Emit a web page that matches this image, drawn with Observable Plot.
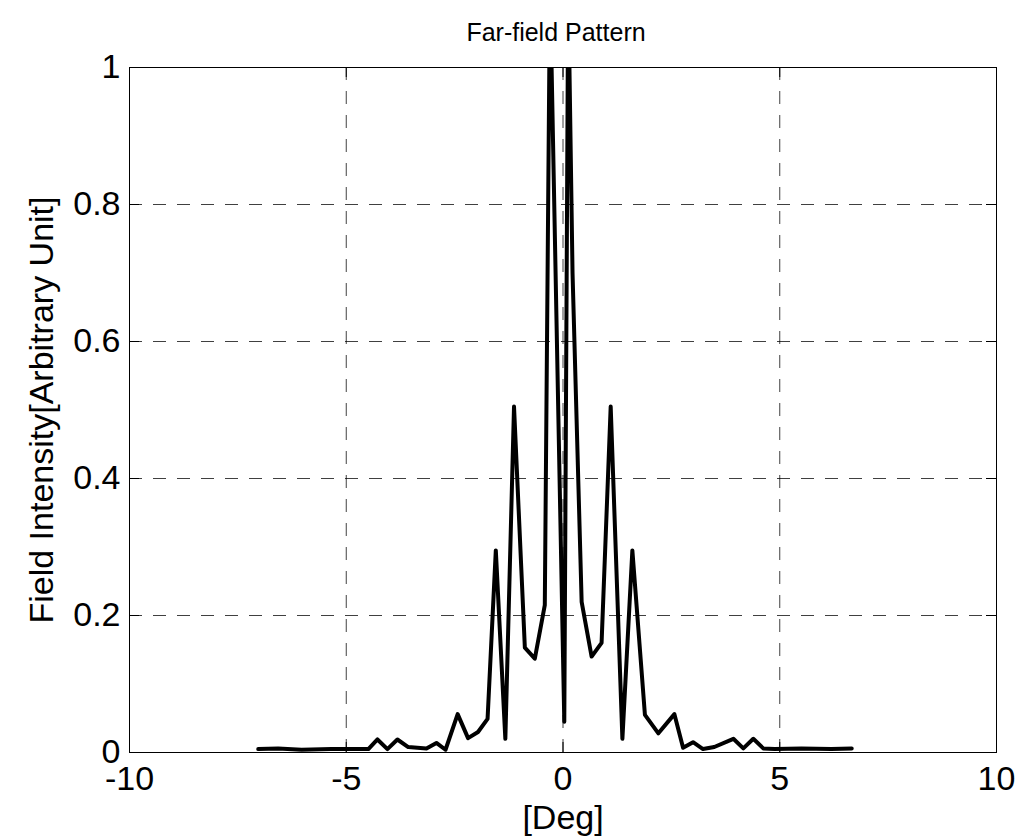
<!DOCTYPE html>
<html>
<head>
<meta charset="utf-8">
<script src="https://cdn.jsdelivr.net/npm/d3@7"></script>
<script src="https://cdn.jsdelivr.net/npm/@observablehq/plot@0.6"></script>
<style>
  html, body { margin: 0; padding: 0; background: #fff; }
  #chart svg { display: block; }
</style>
</head>
<body>
<div id="chart"></div>
<script>
// ---- data ----
const deg = [-7.03, -6.57, -6.03, -5.34, -4.49, -4.28, -4.05, -3.82, -3.57, -3.15, -2.92, -2.71, -2.43, -2.19, -1.96, -1.74, -1.55, -1.33, -1.13, -0.88, -0.65, -0.42, -0.30, 0.03, 0.12, 0.22, 0.43, 0.66, 0.89, 1.10, 1.37, 1.60, 1.89, 2.20, 2.57, 2.77, 3.00, 3.23, 3.49, 3.93, 4.16, 4.39, 4.62, 4.88, 5.50, 6.19, 6.66];
const intensity = [0.005, 0.006, 0.004, 0.005, 0.005, 0.019, 0.005, 0.019, 0.008, 0.006, 0.014, 0.004, 0.056, 0.021, 0.030, 0.049, 0.295, 0.020, 0.505, 0.153, 0.137, 0.215, 1.12, 0.045, 1.12, 0.70, 0.22, 0.14, 0.16, 0.505, 0.020, 0.295, 0.055, 0.028, 0.056, 0.007, 0.015, 0.005, 0.008, 0.020, 0.006, 0.020, 0.006, 0.005, 0.006, 0.005, 0.006];
const xTicks = [-10, -5, 0, 5, 10];
const yTicks = [0, 0.2, 0.4, 0.6, 0.8, 1];
const titleText = "Far-field Pattern";
const xLabel = "[Deg]";
const yLabel = "Field Intensity[Arbitrary Unit]";

const data = deg.map((d, i) => ({deg: d, v: intensity[i]}));

const W = 1036, H = 837, mL = 129, mR = 40, mT = 67, mB = 85;
const tickPx = 10;
const tickLenX = tickPx / ((W - mL - mR) / 20);
const tickLenY = tickPx / (H - mT - mB);
const font = "'Liberation Sans', Arial, Helvetica, sans-serif";
const gridStyle = {stroke: "#000", strokeOpacity: 0.75, strokeWidth: 1, strokeDasharray: "13,11"};

const chart = Plot.plot({
  width: W,
  height: H,
  marginLeft: mL,
  marginRight: mR,
  marginTop: mT,
  marginBottom: mB,
  style: {fontFamily: font, background: "#fff", color: "#000", overflow: "visible"},
  x: {domain: [-10, 10]},
  y: {domain: [0, 1]},
  marks: [
    Plot.gridX({ticks: xTicks, ...gridStyle}),
    Plot.gridY({ticks: yTicks, ...gridStyle}),
    Plot.frame({stroke: "#000", strokeWidth: 1}),
    Plot.ruleX(xTicks, {x: d => d, y1: () => 0, y2: () => tickLenY, stroke: "#000", strokeWidth: 1}),
    Plot.ruleX(xTicks, {x: d => d, y1: () => 1 - tickLenY, y2: () => 1, stroke: "#000", strokeWidth: 1}),
    Plot.ruleY(yTicks, {y: d => d, x1: () => -10, x2: () => -10 + tickLenX, stroke: "#000", strokeWidth: 1}),
    Plot.ruleY(yTicks, {y: d => d, x1: () => 10 - tickLenX, x2: () => 10, stroke: "#000", strokeWidth: 1}),
    Plot.axisX({ticks: xTicks, tickSize: 0, tickPadding: 13, fontSize: 34, tickFormat: d => String(d), label: null}),
    Plot.axisY({ticks: yTicks, tickSize: 0, tickPadding: 9, fontSize: 34, tickFormat: d => String(d), label: null}),
    Plot.line(data, {x: "deg", y: "v", stroke: "#000", strokeWidth: 4, clip: true}),
    Plot.text([titleText], {text: d => d, frameAnchor: "top", textAnchor: "middle", lineAnchor: "middle", dy: -35, dx: -7, fontSize: 25, fill: "#000"}),
    Plot.text([xLabel], {text: d => d, frameAnchor: "bottom", textAnchor: "middle", lineAnchor: "middle", dy: 66, fontSize: 34, fill: "#000"}),
    Plot.text([yLabel], {text: d => d, frameAnchor: "left", textAnchor: "middle", lineAnchor: "middle", dx: -87, rotate: -90, fontSize: 34, fill: "#000"})
  ]
});
document.getElementById("chart").appendChild(chart);
</script>
</body>
</html>
